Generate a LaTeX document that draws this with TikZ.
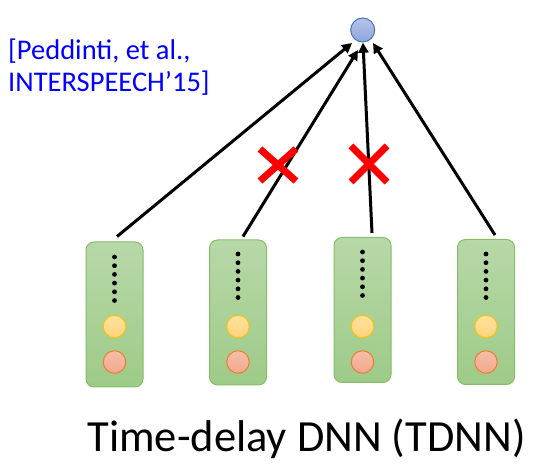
\documentclass[tikz,border=0pt]{standalone}
\usepackage{fontspec}
\setmainfont{Carlito}
\usetikzlibrary{arrows.meta, positioning, shapes.misc}
\definecolor{layertop}{RGB}{183, 216, 168}
\definecolor{layerbottom}{RGB}{158, 203, 136}
\definecolor{layerborder}{RGB}{134, 188, 106}
\definecolor{hidtop}{RGB}{255, 226, 160}
\definecolor{hidbottom}{RGB}{255, 212, 122}
\definecolor{hidborder}{RGB}{250, 192, 20}
\definecolor{inptop}{RGB}{247, 190, 168}
\definecolor{inpbottom}{RGB}{241, 168, 140}
\definecolor{inpborder}{RGB}{237, 125, 49}
\definecolor{outtop}{RGB}{182, 196, 234}
\definecolor{outbottom}{RGB}{143, 164, 219}
\definecolor{outborder}{RGB}{68, 114, 196}
\definecolor{citeblue}{RGB}{0, 0, 255}
\tikzstyle{layer} = [draw=layerborder, line width=1pt, rounded corners=8pt, top color=layertop, bottom color=layerbottom, minimum width=57pt, minimum height=145pt, inner sep=0pt]
\tikzstyle{hid} = [circle, draw=hidborder, line width=1pt, top color=hidtop, bottom color=hidbottom, minimum size=22.5pt, inner sep=0pt]
\tikzstyle{inp} = [circle, draw=inpborder, line width=1pt, top color=inptop, bottom color=inpbottom, minimum size=22.5pt, inner sep=0pt]
\tikzstyle{arrow} = [line width=3pt, -{Triangle[length=10pt,width=10pt]}]
\tikzstyle{cut} = [cross out, draw=red, line width=7pt, inner sep=0pt, outer sep=0pt]

\begin{document}
\begin{tikzpicture}[x=1pt, y=-1pt]
\useasboundingbox (0,0) rectangle (539,473);

% Layer boxes
\node[layer] (b1) at (114.5,314.5) {};
\node[layer] (b2) at (238,312.5) {};
\node[layer] (b3) at (362.5,310) {};
\node[layer] (b4) at (486,312) {};

% Units in each box
\node[hid] (h1) at (114.5,326.5) {};
\node[inp] (i1) at (114.5,362) {};
\node[hid] (h2) at (238,326.5) {};
\node[inp] (i2) at (238,362) {};
\node[hid] (h3) at (362.5,326.5) {};
\node[inp] (i3) at (362.5,362) {};
\node[hid] (h4) at (486,326.5) {};
\node[inp] (i4) at (486,362) {};

% Dots
\foreach \x/\t in {114.5/257, 238/254, 362.5/252, 486/254}
  \foreach \k in {0,...,5}
    \fill (\x, \t+8.7*\k) circle (2.4pt);

% Output unit
\node[circle, draw=outborder, line width=1pt, top color=outtop, bottom color=outbottom, minimum size=24pt, inner sep=0pt] (out) at (362.7,30) {};

% Arrows
\draw[arrow] ([xshift=2.5pt,yshift=5pt]b1.north) -- ([xshift=-10.7pt,yshift=-13pt]out.center);
\draw[arrow] ([xshift=5pt,yshift=3pt]b2.north) -- ([xshift=-4.7pt,yshift=-20pt]out.center);
\draw[arrow] ([xshift=9.5pt,yshift=4pt]b3.north) -- ([xshift=0.3pt,yshift=-12.7pt]out.center);
\draw[arrow] ([xshift=9pt,yshift=4pt]b4.north) -- ([xshift=10.3pt,yshift=-13pt]out.center);

% Removed links
\node[cut, minimum width=36pt, minimum height=32pt] (x1) at (278,165) {};
\node[cut, minimum width=36pt, minimum height=36pt] (x2) at (369,164) {};

% Texts
\node[anchor=base west, align=left, text=citeblue, inner sep=0pt, font=\fontsize{28.5}{32.5}\selectfont] (cite) at (8,92) {[Peddinti, et al.,\\INTERSPEECH’15]};
\node[anchor=base, inner sep=0pt, font=\fontsize{44.5}{50}\selectfont] (title) at (306.5,452) {Time-delay DNN (TDNN)};
\end{tikzpicture}
\end{document}
